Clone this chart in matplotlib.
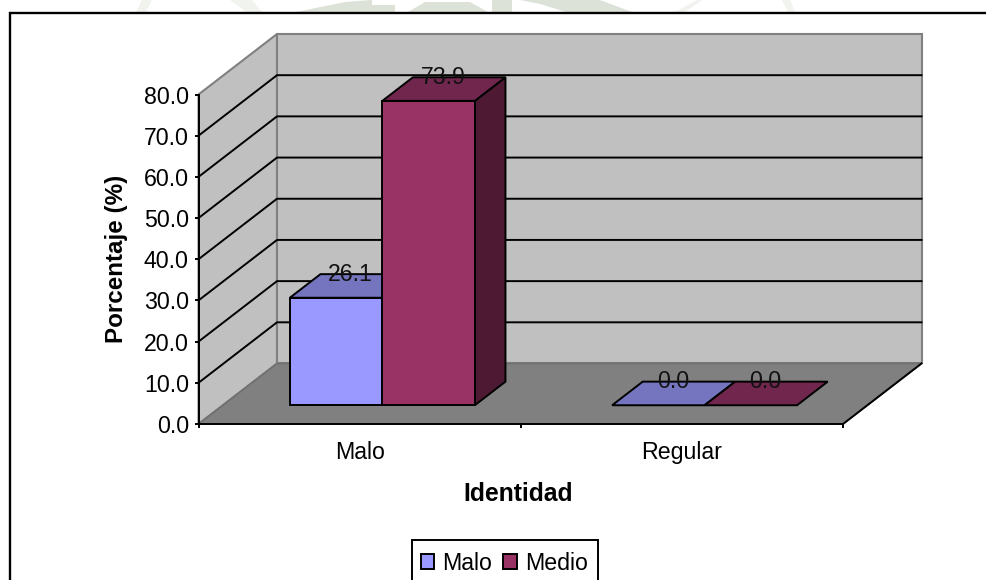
import matplotlib
matplotlib.use("Agg")
import matplotlib.pyplot as plt
from matplotlib.patches import Polygon, Rectangle, Patch

plt.rcParams['font.family'] = ['Liberation Sans', 'DejaVu Sans']

categories = ["Malo", "Regular"]
series_names = ["Malo", "Medio"]
malo_vals = [26.1, 0.0]
medio_vals = [73.9, 0.0]
y_ticks = [0, 10, 20, 30, 40, 50, 60, 70, 80]

W, H = 986, 580
FONT = 16.7
LW = 1.4

# depth of the box, expressed in data units of the front plane
DEPTH_X = 0.2436
DEPTH_Y = 14.69
BAR_W = 0.287
BAR_C = 0.495
BAR_D0 = 0.31
BAR_D1 = 0.70

WALL = "#c0c0c0"
EDGE = "#808080"
series_colors = [("#9999ff", "#7575bf", "#4d4d80"),
                 ("#993366", "#70264d", "#4d1933")]


def proj(x, y, d):
    return x + d * DEPTH_X, y + d * DEPTH_Y


def face(ax, pts, color, ec="k", lw=LW, z=3):
    ax.add_patch(Polygon([proj(*p) for p in pts], closed=True, fc=color, ec=ec,
                         lw=lw, zorder=z, clip_on=False, joinstyle="miter"))


fig = plt.figure(figsize=(W / 100, H / 100), dpi=100, facecolor="white")

# page background and outer chart frame, in pixels
bg = fig.add_axes([0, 0, 1, 1], zorder=0)
bg.set_xlim(0, W)
bg.set_ylim(H, 0)
bg.axis("off")
sage = "#dde2d8"
pale = "#f1f3ef"
for pts, c in [([(136, 12), (142, 0), (152, 0), (146, 12)], pale),
               ([(230, 0), (252, 0), (262, 12), (246, 12)], pale),
               ([(296, 12), (345, 2), (372, 0), (372, 12)], sage),
               ([(372, 5), (395, 5), (395, 12), (372, 12)], sage),
               ([(408, 12), (425, 2), (470, 2), (488, 12)], sage),
               ([(492, 0), (512, 0), (512, 12), (492, 12)], sage),
               ([(520, 0), (600, 0), (632, 12), (566, 12), (540, 4)], sage),
               ([(675, 12), (697, 0), (702, 0), (685, 12)], pale),
               ([(782, 0), (790, 0), (795, 12), (788, 12)], pale)]:
    bg.add_patch(Polygon(pts, closed=True, fc=c, ec="none"))
bg.add_patch(Rectangle((10, 13), W + 20, H + 20, fc="white", ec="k", lw=1.7))
bg.add_patch(Rectangle((412, 540), 186, H, fc="white", ec="k", lw=LW))

# front plane of the box
ax = fig.add_axes([198.5 / W, 1 - 424 / H, 644.5 / W, 329.5 / H], zorder=1)
ax.patch.set_alpha(0)
ax.set_xlim(0, 2)
ax.set_ylim(0, 80)

ymax = y_ticks[-1]
face(ax, [(0, 0, 0), (0, ymax, 0), (0, ymax, 1), (0, 0, 1)], WALL, EDGE, 1.5, 1)
face(ax, [(0, 0, 1), (0, ymax, 1), (2, ymax, 1), (2, 0, 1)], WALL, EDGE, 1.5, 1)
face(ax, [(0, 0, 0), (2, 0, 0), (2, 0, 1), (0, 0, 1)], EDGE, "#707070", 1.2, 1.6)
for t in y_ticks[1:-1]:
    xs, ys = zip(proj(0, t, 0), proj(0, t, 1), proj(2, t, 1))
    ax.plot(xs, ys, color="k", lw=LW, zorder=1.5, clip_on=False)
xs, ys = zip(proj(2, 0, 0), proj(2, 0, 1))
ax.plot(xs, ys, color="k", lw=LW, zorder=1.7, clip_on=False)

for s, vals in enumerate([malo_vals, medio_vals]):
    front, top, side = series_colors[s]
    for i, v in enumerate(vals):
        x0 = i + BAR_C - BAR_W + s * BAR_W
        x1 = x0 + BAR_W
        z = 3 + s
        if v > 0:
            face(ax, [(x1, 0, BAR_D0), (x1, v, BAR_D0), (x1, v, BAR_D1), (x1, 0, BAR_D1)], side, z=z)
            face(ax, [(x0, 0, BAR_D0), (x1, 0, BAR_D0), (x1, v, BAR_D0), (x0, v, BAR_D0)], front, z=z)
        face(ax, [(x0, v, BAR_D0), (x1, v, BAR_D0), (x1, v, BAR_D1), (x0, v, BAR_D1)], top, z=z)
        ax.annotate(f"{v:.1f}", xy=proj(x0 + BAR_W / 2, v, BAR_D1), xytext=(-16, 0),
                    textcoords="offset pixels", ha="center", va="center",
                    fontsize=FONT, color="#111111", zorder=6, annotation_clip=False)

for name in ["top", "right"]:
    ax.spines[name].set_visible(False)
for name in ["left", "bottom"]:
    ax.spines[name].set_linewidth(LW)
    ax.spines[name].set_zorder(2.5)

ax.set_yticks(y_ticks)
ax.set_yticklabels([f"{t:.1f}" for t in y_ticks], fontsize=FONT)
ax.tick_params(axis="y", length=3, width=LW, pad=4)
ax.set_xticks([0, 1, 2])
ax.set_xticklabels([])
ax.tick_params(axis="x", which="major", length=3, width=LW)
ax.set_xticks([i + 0.5 for i in range(len(categories))], minor=True)
ax.set_xticklabels(categories, minor=True, fontsize=FONT)
ax.tick_params(axis="x", which="minor", length=0, pad=12)
ax.set_xlabel("Identidad", fontsize=17.8, fontweight="bold", labelpad=13, x=0.4957)
ax.set_ylabel("Porcentaje (%)", fontsize=17.4, fontweight="bold", labelpad=11)

handles = [Patch(fc=series_colors[k][0], ec="k", lw=LW) for k in range(2)]
fig.legend(handles, series_names, frameon=False, fontsize=FONT, ncol=2,
           loc="center left", bbox_to_anchor=(420.5 / W, 1 - 563 / H),
           handlelength=0.58, handleheight=0.62, handletextpad=0.36,
           columnspacing=0.48, borderpad=0, borderaxespad=0)

fig.savefig("out.png", dpi=100)
